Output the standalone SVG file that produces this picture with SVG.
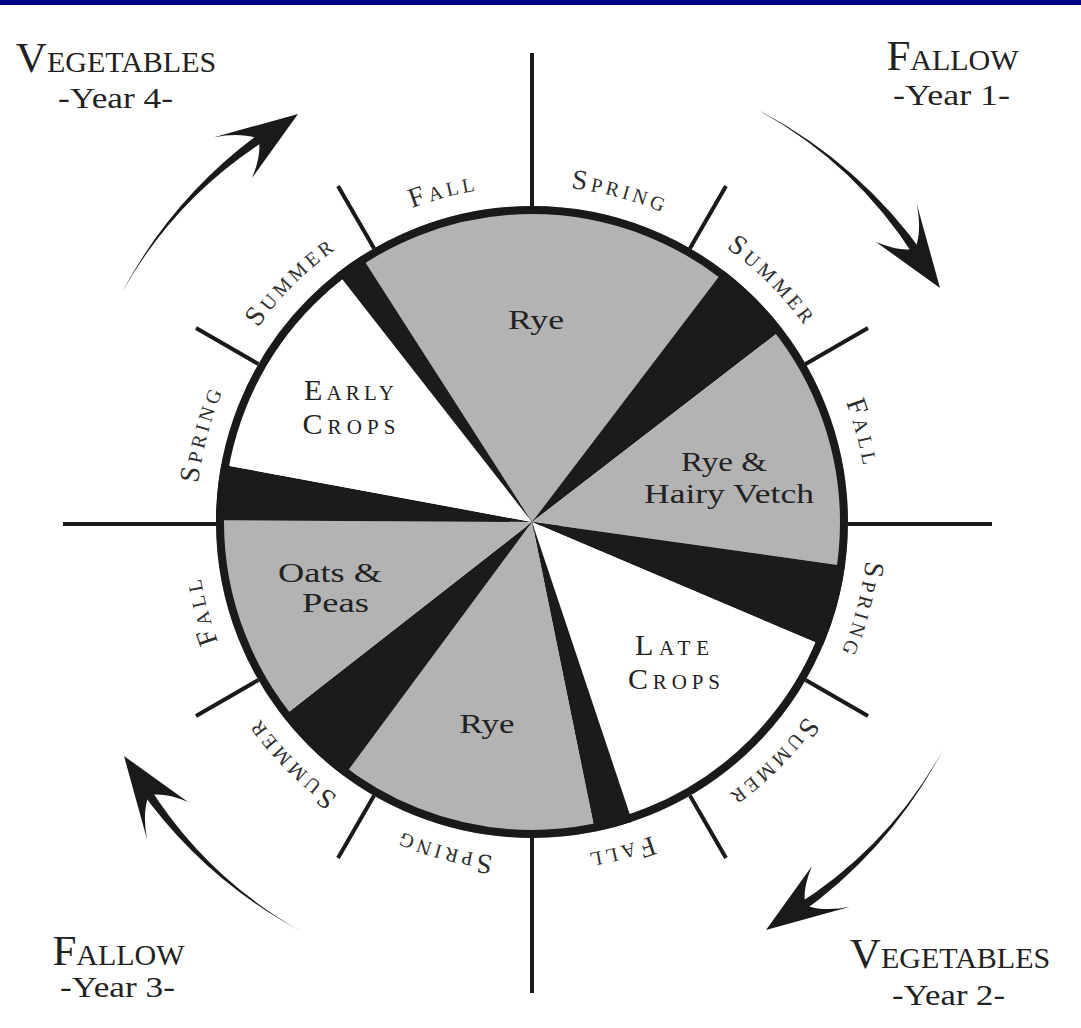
<svg xmlns="http://www.w3.org/2000/svg" width="1081" height="1028" viewBox="0 0 1081 1028">
<style>
.ax{stroke:#1a1a1a;stroke-width:4;fill:none}
.rim{fill:none;stroke:#1a1a1a;stroke-width:8}
.g{fill:#b3b3b3}.k{fill:#1b1b1b}.w{fill:#fff}
.arr{fill:#1a1a1a}
text{font-family:"Liberation Serif","Times New Roman",serif;fill:#222}
.in{font-size:28px;text-anchor:middle}
.sc{font-size:30px;font-variant:small-caps;text-anchor:middle}
.ssn{font-size:28px;font-variant:small-caps;letter-spacing:3.7px;text-anchor:middle;fill:#2e2e2e}
.ttl{font-size:43px;font-variant:small-caps;text-anchor:middle}
.yr{font-size:29px;text-anchor:middle}
</style>
<defs>
<path id="ring" d="M532,186 A336,336 0 0 1 532,858 A336,336 0 0 1 532,186"/>
<g id="arrowTR">
<path d="M759.9,111 A472,472 0 0 1 925.5,256.5 L917.8,261.8 A432,432 0 0 0 759.9,111 Z"/>
<path d="M940,288 L876,242 Q900,252 915.4,248.5 Q922,230 916.8,204 Z"/>
</g>
</defs>
<rect width="1081" height="1028" fill="#fff"/>
<rect width="1081" height="5" fill="#000080"/>

<g id="axes">
<line class="ax" x1="532" y1="53" x2="532" y2="993"/>
<line class="ax" x1="63" y1="524" x2="992" y2="524"/>
<path class="ax" d="M689,250.1 L726,186 M803.9,365 L868,328 M803.9,679 L868,716 M689,793.9 L726,858 M375,793.9 L338,858 M260.1,679 L196,716 M260.1,365 L196,328 M375,250.1 L338,186"/>
</g>

<g id="pie">
<g id="wedge-rye-top">
<path class="g" d="M532,522 L361.3,256.1 A316,316 0 0 1 723.5,270.6 Z"/>
<text class="in" x="536" y="329" textLength="56" lengthAdjust="spacingAndGlyphs">Rye</text>
</g>
<g id="gap-1"><path class="k" d="M532,522 L723.5,270.6 A316,316 0 0 1 782.4,329.2 Z"/></g>
<g id="wedge-rye-vetch">
<path class="g" d="M532,522 L782.4,329.2 A316,316 0 0 1 844.9,566 Z"/>
<text class="in" x="724" y="471" textLength="86" lengthAdjust="spacingAndGlyphs">Rye &amp;</text>
<text class="in" x="729" y="503" textLength="170" lengthAdjust="spacingAndGlyphs">Hairy Vetch</text>
</g>
<g id="gap-2"><path class="k" d="M532,522 L844.9,566 A316,316 0 0 1 822.9,645.5 Z"/></g>
<g id="wedge-late-crops">
<path class="w" d="M532,522 L822.9,645.5 A316,316 0 0 1 632.3,821.7 Z"/>
<text class="sc" x="672" y="655" textLength="74" lengthAdjust="spacing">Late</text>
<text class="sc" x="674" y="689" textLength="92" lengthAdjust="spacing">Crops</text>
</g>
<g id="gap-3"><path class="k" d="M532,522 L632.3,821.7 A316,316 0 0 1 595,831.6 Z"/></g>
<g id="wedge-rye-bottom">
<path class="g" d="M532,522 L595,831.6 A316,316 0 0 1 344,776 Z"/>
<text class="in" x="487" y="733" textLength="55" lengthAdjust="spacingAndGlyphs">Rye</text>
</g>
<g id="gap-4"><path class="k" d="M532,522 L344,776 A316,316 0 0 1 283,716.6 Z"/></g>
<g id="wedge-oats-peas">
<path class="g" d="M532,522 L283,716.6 A316,316 0 0 1 216,520.3 Z"/>
<text class="in" x="330" y="582" textLength="104" lengthAdjust="spacingAndGlyphs">Oats &amp;</text>
<text class="in" x="335.5" y="612" textLength="67" lengthAdjust="spacingAndGlyphs">Peas</text>
</g>
<g id="gap-5"><path class="k" d="M532,522 L216,520.3 A316,316 0 0 1 221.3,464.4 Z"/></g>
<g id="wedge-early-crops">
<path class="w" d="M532,522 L221.3,464.4 A316,316 0 0 1 337.4,273 Z"/>
<text class="sc" x="349" y="400" textLength="90" lengthAdjust="spacing">Early</text>
<text class="sc" x="349" y="434" textLength="93" lengthAdjust="spacing">Crops</text>
</g>
<g id="gap-6"><path class="k" d="M532,522 L337.4,273 A316,316 0 0 1 361.3,256.1 Z"/></g>
<circle class="rim" cx="532" cy="522" r="312"/>
</g>

<g id="seasons">
<text class="ssn"><textPath href="#ring" startOffset="4.1667%">Spring</textPath></text>
<text class="ssn"><textPath href="#ring" startOffset="12.5%">Summer</textPath></text>
<text class="ssn"><textPath href="#ring" startOffset="20.833%">Fall</textPath></text>
<text class="ssn"><textPath href="#ring" startOffset="29.167%">Spring</textPath></text>
<text class="ssn"><textPath href="#ring" startOffset="37.5%">Summer</textPath></text>
<text class="ssn"><textPath href="#ring" startOffset="45.833%">Fall</textPath></text>
<text class="ssn"><textPath href="#ring" startOffset="54.167%">Spring</textPath></text>
<text class="ssn"><textPath href="#ring" startOffset="62.5%">Summer</textPath></text>
<text class="ssn"><textPath href="#ring" startOffset="70.833%">Fall</textPath></text>
<text class="ssn"><textPath href="#ring" startOffset="79.167%">Spring</textPath></text>
<text class="ssn"><textPath href="#ring" startOffset="87.5%">Summer</textPath></text>
<text class="ssn"><textPath href="#ring" startOffset="95.833%">Fall</textPath></text>
</g>

<g id="connectors" class="arr">
<use href="#arrowTR"/>
<use href="#arrowTR" transform="rotate(90 532 522)"/>
<use href="#arrowTR" transform="rotate(180 532 522)"/>
<use href="#arrowTR" transform="rotate(270 532 522)"/>
</g>

<g id="title-year1">
<text class="ttl" x="952.5" y="70">Fallow</text>
<text class="yr" x="951.5" y="105" textLength="117" lengthAdjust="spacingAndGlyphs">-Year 1-</text>
</g>
<g id="title-year2">
<text class="ttl" x="950" y="968">Vegetables</text>
<text class="yr" x="948.5" y="1005" textLength="113" lengthAdjust="spacingAndGlyphs">-Year 2-</text>
</g>
<g id="title-year3">
<text class="ttl" x="118.5" y="965">Fallow</text>
<text class="yr" x="117.5" y="997" textLength="115" lengthAdjust="spacingAndGlyphs">-Year 3-</text>
</g>
<g id="title-year4">
<text class="ttl" x="116" y="72">Vegetables</text>
<text class="yr" x="115.5" y="108" textLength="115" lengthAdjust="spacingAndGlyphs">-Year 4-</text>
</g>
</svg>
